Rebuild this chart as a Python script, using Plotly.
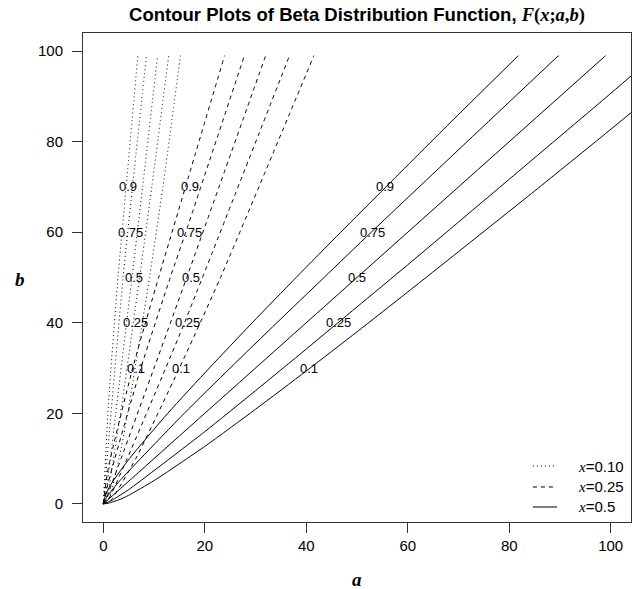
import plotly.graph_objects as go

# contour levels of F(x; a, b)
levels = ["0.9", "0.75", "0.5", "0.25", "0.1"]

# x = 0.10 (dotted) contour lines, one list per level
x10_a = [[0, 0.046, 1, 2.9, 4.5, 6.8],
         [0, 0.125, 1, 3.9, 5.75, 8.5],
         [0, 0.301, 1, 1.41, 2.45, 5.65, 7.75, 10.7],
         [0, 0.602, 1, 2.0, 3.4, 7.15, 9.55, 12.9],
         [0, 1, 3.1, 4.8, 9.1, 11.75, 15.2]]
x10_b = [[0, 1, 21.85, 50, 70, 99],
         [0, 1, 13.16, 50, 70, 99],
         [0, 1, 6.58, 10, 20, 50, 70, 99],
         [0, 1, 2.73, 10, 20, 50, 70, 99],
         [0, 1, 10, 20, 50, 70, 99]]

# x = 0.25 (dashed)
x25_a = [[0, 0.076, 1, 5.8, 10.9, 16.2, 23.9],
         [0, 0.2075, 1, 7.4, 13.2, 16.25, 27.8],
         [0, 0.5, 1, 3.5, 10.0, 16.45, 32.0],
         [0, 1, 4.7, 12.3, 16.0, 36.7],
         [0, 1, 1.66, 6.4, 15.0, 23.1, 41.5]]
x25_b = [[0, 1, 8, 30, 50, 70, 99],
         [0, 1, 4.82, 30, 50, 60, 99],
         [0, 1, 2.41, 10, 30, 50, 99],
         [0, 1, 10, 30, 40, 99],
         [0, 0.366, 1, 10, 30, 50, 99]]

# x = 0.5 (solid)
x50_a = [[0, 0.152, 1, 1.9, 5.15, 12.7, 20.9, 29.35, 38.0, 46.8, 55.7, 69.1, 81.8],
         [0, 0.415, 1, 3.15, 7.35, 15.95, 25.0, 34.2, 43.5, 52.8, 71.7, 89.7],
         [0, 1, 50, 99],
         [0, 1, 2, 5, 10, 20, 30, 40, 50, 60, 80, 99, 104],
         [0, 1, 3.32, 5, 10, 20, 30, 40, 50, 60, 70, 85, 99, 104]]
x50_b = [[0, 1, 3.32, 5, 10, 20, 30, 40, 50, 60, 70, 85, 99],
         [0, 1, 2, 5, 10, 20, 30, 40, 50, 60, 80, 99],
         [0, 1, 50, 99],
         [0, 0.415, 1, 3.15, 7.35, 15.95, 25.0, 34.2, 43.5, 52.8, 71.7, 89.7, 94.5],
         [0, 0.152, 1, 1.9, 5.15, 12.7, 20.9, 29.35, 38.0, 46.8, 55.7, 69.1, 81.8, 86.4]]

# label positions
lab_b = [70, 60, 50, 40, 30]
lab_a_x10 = [4.8, 5.3, 6.0, 6.3, 6.5]
lab_a_x25 = [17.0, 16.9, 17.2, 16.5, 15.3]
lab_a_x50 = [55.6, 53.0, 50.0, 46.3, 40.6]

legend_labels = ["0.10", "0.25", "0.5"]

SANS = "Liberation Sans, Arial, sans-serif"
SERIF = "Liberation Serif, Times New Roman, serif"

fig = go.Figure()
families = [(x10_a, x10_b, "1px,3px"), (x25_a, x25_b, "4px,4px"), (x50_a, x50_b, "solid")]
for fa, fb, dash in families:
    for a, b in zip(fa, fb):
        fig.add_trace(go.Scatter(x=a, y=b, mode="lines",
                                 line=dict(color="black", width=1, dash=dash, shape="spline",
                                           smoothing=0.6),
                                 showlegend=False, hoverinfo="skip"))

annotations = []
for la in (lab_a_x10, lab_a_x25, lab_a_x50):
    for a, b, t in zip(la, lab_b, levels):
        annotations.append(dict(x=a, y=b, xref="x", yref="y", text=t, showarrow=False,
                                font=dict(family=SANS, size=13, color="black")))

# legend (drawn manually)
leg_y = [0.1145, 0.0716, 0.0307]
dashes = ["1px,3px", "4px,4px", "solid"]
shapes = []
for yy, d, lab in zip(leg_y, dashes, legend_labels):
    shapes.append(dict(type="line", xref="paper", yref="paper", x0=0.821, x1=0.865,
                       y0=yy, y1=yy, line=dict(color="black", width=1, dash=d)))
    annotations.append(dict(xref="paper", yref="paper", x=0.899, y=yy, xanchor="left",
                            yanchor="middle", showarrow=False,
                            text=f"<span style=\"font-family:{SERIF}\"><i>x</i></span>={lab}",
                            font=dict(family=SANS, size=15, color="black")))

# axis titles
annotations.append(dict(xref="paper", yref="paper", x=0.5, y=-0.1186, showarrow=False,
                        text="<b><i>a</i></b>", font=dict(family=SERIF, size=19, color="black"),
                        yanchor="middle"))
annotations.append(dict(xref="paper", yref="paper", x=-0.115, y=0.495, showarrow=False,
                        text="<b><i>b</i></b>", font=dict(family=SERIF, size=19, color="black"),
                        xanchor="center", yanchor="middle"))

axis_common = dict(showgrid=False, zeroline=False, showline=True, linecolor="#333333",
                   linewidth=1, mirror=True, ticks="outside", ticklen=10, tickcolor="#333333",
                   tickfont=dict(family=SANS, size=15, color="black"))

fig.update_layout(
    width=640, height=589,
    margin=dict(l=83, r=9, t=33, b=67),
    paper_bgcolor="white", plot_bgcolor="white",
    title=dict(text="<b>Contour Plots of Beta Distribution Function, </b>"
                    f"<span style=\"font-family:{SERIF}\"><b><i>F</i>(<i>x</i>;<i>a</i>,<i>b</i>)</b></span>",
               x=0.5, xref="paper", y=1 - 15 / 589, yanchor="middle",
               font=dict(family=SANS, size=18.5, color="black")),
    xaxis=dict(range=[-4, 104], tickvals=[0, 20, 40, 60, 80, 100], **axis_common),
    yaxis=dict(range=[-4, 104], tickvals=[0, 20, 40, 60, 80, 100],
               ticklabelstandoff=6, **axis_common),
    annotations=annotations,
    shapes=shapes,
)

fig.write_html("out.html", config={"displayModeBar": False},
               post_script="document.body.style.margin='0px';")
